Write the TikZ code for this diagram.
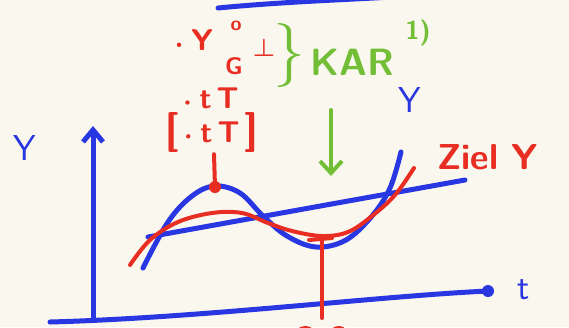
\documentclass[tikz,border=0pt]{standalone}
\usepackage{amsmath}
\usetikzlibrary{arrows.meta}
\definecolor{penblue}{RGB}{40,55,225}
\definecolor{penred}{RGB}{232,45,35}
\definecolor{pengreen}{RGB}{115,190,55}
\definecolor{paper}{RGB}{250,247,238}
\tikzset{
  blueink/.style={draw=penblue, line width=5pt, line cap=round, line join=round},
  redink/.style={draw=penred, line width=4pt, line cap=round, line join=round},
  greenink/.style={draw=pengreen, line width=4pt, line cap=round},
  bluetext/.style={text=penblue, font=\sffamily\fontsize{36}{36}\selectfont, inner sep=0pt},
  redtext/.style={text=penred, font=\sffamily\bfseries\fontsize{30}{30}\selectfont, inner sep=0pt},
  greentext/.style={text=pengreen, font=\sffamily\bfseries\fontsize{38}{38}\selectfont, inner sep=0pt}
}
\newcommand{\inkdot}{\raisebox{0.25ex}{\tikz\fill (0,0) circle (2.2pt);}}
\begin{document}
\begin{tikzpicture}[x=1pt, y=-1pt]
            \fill[paper] (0,0) rectangle (569,327);
            \useasboundingbox (0,0) rectangle (569,327);
            % Draw nodes
            \coordinate (origin) at (93,318);
            \coordinate (yend) at (93,126);
            \coordinate (xstart) at (50,322);
            \coordinate (xend) at (488,291);
            \coordinate (peak) at (215,187);
            \coordinate (trough) at (322,240);
            \coordinate (foot) at (322,318);
            \node[bluetext] (ylabel) at (25,148) {Y};
            \node[bluetext] (tlabel) at (524,290) {t};
            \node[bluetext] (ycurve) at (410,100) {Y};
            \node[redtext, font=\sffamily\bfseries\fontsize{36}{36}\selectfont, anchor=west] (ziel) at (437,157) {Ziel Y};
            \node[redtext] (rowone) at (195,40) {\inkdot\,\,Y};
            \node[redtext, font=\sffamily\bfseries\fontsize{20}{20}\selectfont] (sup) at (236,26) {o};
            \node[redtext, font=\sffamily\bfseries\fontsize{24}{24}\selectfont] (sub) at (234,66) {G};
            \node[redtext, font=\fontsize{36}{36}\selectfont] (perp) at (264,48) {$\boldsymbol{\perp}$};
            \node[redtext] (rowtwo) at (212,98) {\inkdot\,\,t\,T};
            \node[redtext] (rowthree) at (212,132) {\fontsize{40}{40}\selectfont[\,\fontsize{30}{30}\selectfont\inkdot\,\,t\,T\,\fontsize{40}{40}\selectfont]};
            \node[greentext] (kar) at (352,62) {KAR};
            \node[greentext, font=\sffamily\bfseries\fontsize{26}{26}\selectfont] (note) at (418,33) {1)};
            \node[greentext, font=\fontsize{64}{64}\selectfont, anchor=east] (brace) at (306,55) {\}};
            \coordinate (arrtop) at (331,110);
            \coordinate (arrbot) at (331,176);
            
            % Draw connections
            \draw[blueink] (xstart) .. controls (200,318) and (380,296) .. (xend);
            \draw[blueink, -{Straight Barb[length=12pt, width=20pt]}] (origin) -- (yend);
            \fill[penblue] (xend) circle (6pt);
            \draw[blueink] (148,237) -- (465,180);
            \draw[blueink] plot[smooth, tension=0.6] coordinates {(143,268) (168,222) (192,196) (215,186) (240,193) (263,216) (287,236) (316,247) (346,240) (372,216) (390,188) (401,152)};
            \draw[redink] plot[smooth, tension=0.6] coordinates {(130,265) (150,240) (178,222) (212,213) (242,213) (268,223) (292,231) (322,236) (348,232) (372,216) (395,195) (414,168)};
            \draw[redink] (rowthree.south) ++(2,2) -- (peak);
            \fill[penred] (peak) circle (6pt);
            \draw[redink] (trough) -- (foot);
            \draw[redink] (309,240) -- (332,238);
            \draw[greenink, -{Straight Barb[length=12pt, width=22pt]}] (arrtop) -- (arrbot);
            \draw[blueink] (218,8) .. controls (280,2) and (340,0) .. (392,-3);
            \draw[redink] (298,331) .. controls (302,327) and (309,327) .. (312,331);
            \draw[redink] (332,331) .. controls (336,327) and (342,327) .. (345,331);
        \end{tikzpicture}
\end{document}
